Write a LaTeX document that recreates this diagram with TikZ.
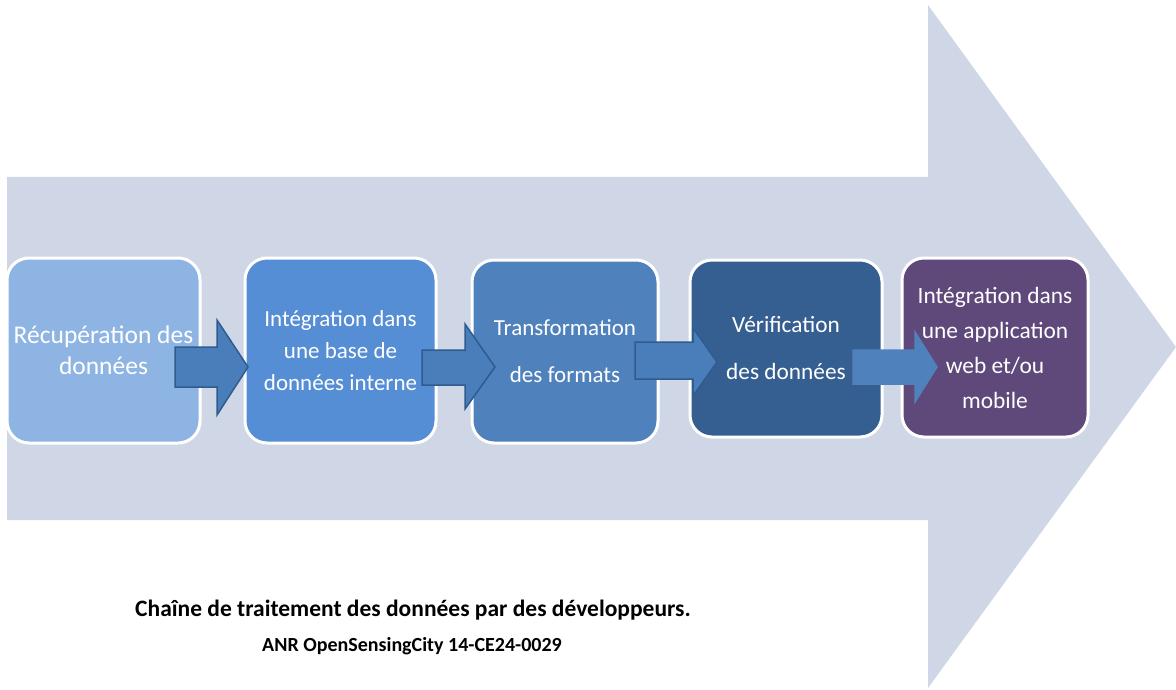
\documentclass[tikz,border=0pt]{standalone}
\usepackage{fontspec}
\setmainfont{Carlito}
\definecolor{bigc}{HTML}{CFD7E7}
\definecolor{cA}{HTML}{8EB4E3}
\definecolor{cB}{HTML}{558ED5}
\definecolor{cC}{HTML}{4F81BD}
\definecolor{cD}{HTML}{365F91}
\definecolor{cE}{HTML}{5F497A}
\definecolor{arrf}{HTML}{4A7EBB}
\definecolor{arrd}{HTML}{2F5B8E}
\tikzset{
  stepbox/.style={draw=white, line width=3pt, rounded corners=22pt, text=white, align=center, inner sep=0pt},
  blockarr/.style={fill=arrf, draw=arrd, line width=1.5pt, line join=miter}
}
\begin{document}
\begin{tikzpicture}[x=1pt,y=-1pt]
\useasboundingbox (0,0) rectangle (1176,690);
% big background arrow
\fill[bigc] (7,177) -- (928,177) -- (928,5) -- (1176,347) -- (928,688) -- (928,520) -- (7,520) -- cycle;
% boxes
\node[stepbox, fill=cA, minimum width=193pt, minimum height=185pt, font=\fontsize{25.5}{31}\selectfont] (b1) at (103.5,350.5) {Récupération des\\données};
\node[stepbox, fill=cB, minimum width=191pt, minimum height=185pt, font=\fontsize{23}{32}\selectfont] (b2) at (340.5,350.5) {Intégration dans\\une base de\\données interne};
\node[stepbox, fill=cC, minimum width=186pt, minimum height=183pt, font=\fontsize{23}{47}\selectfont] (b3) at (565,351.5) {Transformation\\des formats};
\node[stepbox, fill=cD, minimum width=192pt, minimum height=177pt, font=\fontsize{23.3}{47}\selectfont] (b4) at (786,348.5) {Vérification\\des données};
\node[stepbox, fill=cE, minimum width=186pt, minimum height=179pt, font=\fontsize{23.4}{35}\selectfont] (b5) at (995,347.5) {Intégration dans\\une application\\web et/ou\\mobile};
% block arrows between the steps
\draw[blockarr] (175,347) -- (217,347) -- (217,320) -- (248,367) -- (217,415) -- (217,387) -- (175,387) -- cycle;
\draw[blockarr] (422,350) -- (465,350) -- (465,324) -- (495,367) -- (465,409) -- (465,385) -- (422,385) -- cycle;
\draw[blockarr] (635,342) -- (693,342) -- (693,328) -- (717,362) -- (693,396) -- (693,379) -- (635,379) -- cycle;
\draw[blockarr, fill=cC, draw=cC] (853,350) -- (915,350) -- (915,332) -- (937,367) -- (915,402) -- (915,384) -- (853,384) -- cycle;
% caption
\node[font=\bfseries\fontsize{23.5}{28}\selectfont, anchor=base, inner sep=0pt] (cap1) at (413,616) {Chaîne de traitement des données par des développeurs.};
\node[font=\bfseries\fontsize{20}{24}\selectfont, anchor=base, inner sep=0pt] (cap2) at (412,651) {ANR OpenSensingCity 14-CE24-0029};
\end{tikzpicture}
\end{document}
